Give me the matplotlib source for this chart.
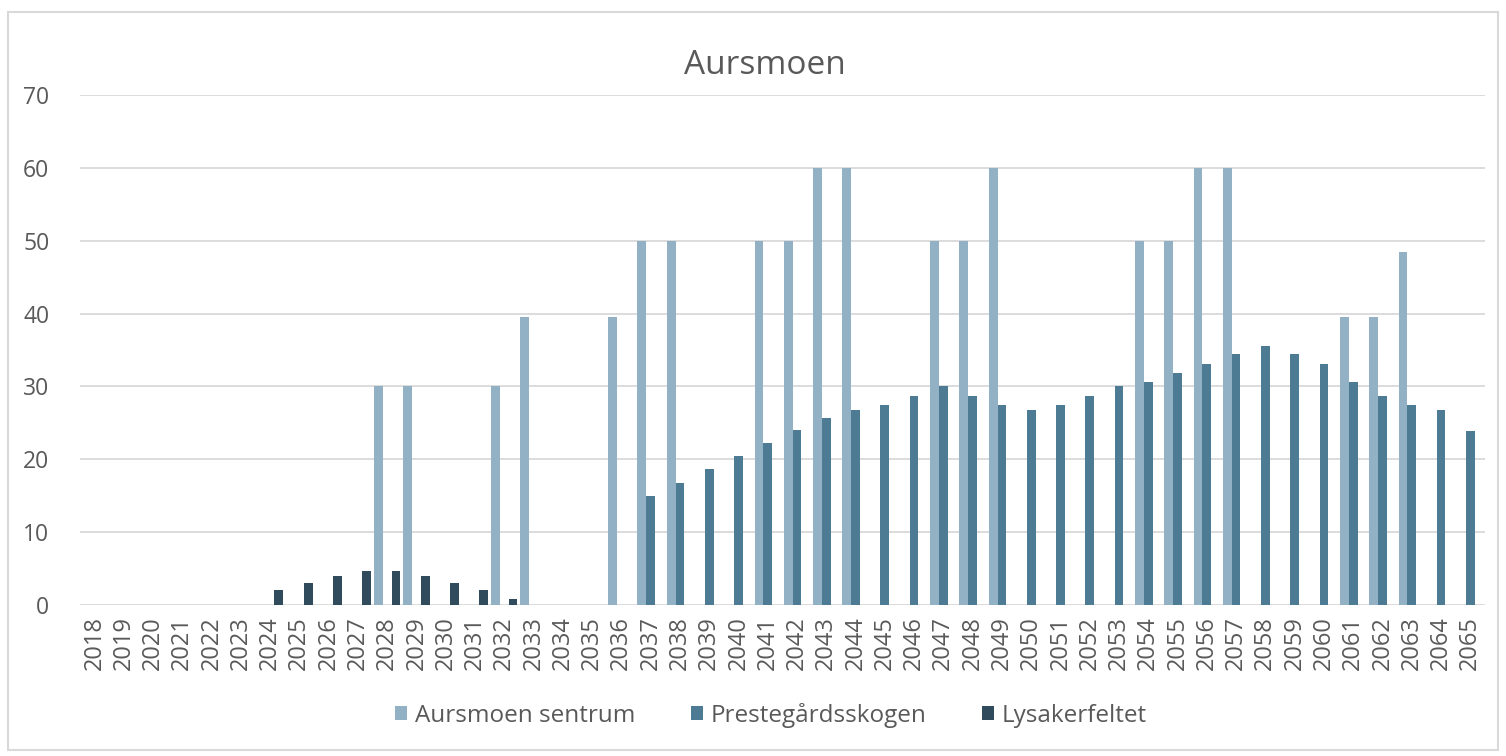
import matplotlib
matplotlib.use("Agg")
import matplotlib.pyplot as plt
from matplotlib.patches import Rectangle
import numpy as np

# categories
years = [str(y) for y in range(2018, 2066)]

# series values, one per year 2018-2065
aursmoen = [0, 0, 0, 0, 0, 0, 0, 0, 0, 0,            # 2018-2027
            30, 30, 0, 0, 30, 39.5, 0, 0, 39.5, 50,  # 2028-2037
            50, 0, 0, 50, 50, 60, 60, 0, 0, 50,      # 2038-2047
            50, 60, 0, 0, 0, 0, 50, 50, 60, 60,      # 2048-2057
            0, 0, 0, 39.5, 39.5, 48.5, 0, 0]         # 2058-2065
prestegard = [0, 0, 0, 0, 0, 0, 0, 0, 0, 0,
              0, 0, 0, 0, 0, 0, 0, 0, 0, 15,
              16.8, 18.6, 20.4, 22.2, 24, 25.6, 26.8, 27.5, 28.7, 30,
              28.7, 27.5, 26.8, 27.5, 28.7, 30, 30.6, 31.9, 33.1, 34.4,
              35.6, 34.4, 33.1, 30.6, 28.7, 27.5, 26.8, 23.9]
lysaker = [0, 0, 0, 0, 0, 0, 2, 3, 3.9, 4.7,
           4.7, 3.9, 3, 2, 0.8, 0, 0, 0, 0, 0,
           0, 0, 0, 0, 0, 0, 0, 0, 0, 0,
           0, 0, 0, 0, 0, 0, 0, 0, 0, 0,
           0, 0, 0, 0, 0, 0, 0, 0]

series_names = ["Aursmoen sentrum", "Prestegårdsskogen", "Lysakerfeltet"]
y_ticks = [0, 10, 20, 30, 40, 50, 60, 70]

# colours
colors = ["#93B1C4", "#4E7B94", "#304C5C"]
text_col = "#595959"
grid_col = "#D9D9D9"

plt.rcParams["font.family"] = ["Open Sans", "DejaVu Sans"]

fig = plt.figure(figsize=(15.06, 7.56), dpi=100)
ax = fig.add_axes([0.053, 0.2, 0.933, 0.674])

x = np.arange(len(years))
w = 0.3
for i, vals in enumerate([aursmoen, prestegard, lysaker]):
    ax.bar(x + (i - 1) * w, vals, width=w, color=colors[i],
           label=series_names[i], zorder=3)

ax.set_xlim(-0.5, len(years) - 0.5)
ax.set_ylim(0, 70)
ax.set_yticks(y_ticks)
ax.set_xticks(x)
ax.set_xticklabels(years, rotation=90)
ax.tick_params(axis="both", length=0, colors=text_col)
ax.tick_params(axis="y", pad=22, labelsize=16.5)
ax.tick_params(axis="x", pad=8, labelsize=17)
ax.grid(axis="y", color=grid_col, linewidth=1.3, zorder=0)
for s in ax.spines.values():
    s.set_visible(False)

fig.text(0.508, 0.914, "Aursmoen", ha="center", va="center",
         fontsize=24, color=text_col)

fig.legend(loc="center", bbox_to_anchor=(0.512, 0.054), ncol=3,
           frameon=False, fontsize=17.5, labelcolor=text_col,
           handlelength=0.5, handleheight=0.55, handletextpad=0.3,
           columnspacing=2.3)

# light frame round the chart
fig.patches.append(Rectangle((0.005, 0.008), 0.99, 0.976,
                             transform=fig.transFigure, fill=False,
                             edgecolor="#D9D9D9", linewidth=1.5))

fig.savefig("out.png", dpi=100, facecolor="white")
